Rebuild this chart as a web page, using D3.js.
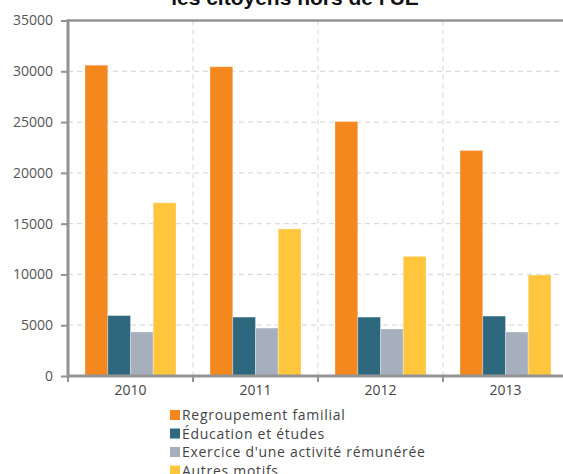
<!DOCTYPE html>
<html>
<head>
<meta charset="utf-8">
<script src="https://cdn.jsdelivr.net/npm/d3@7"></script>
<style>
  body { margin: 0; background: #fff; }
  svg { display: block; }
</style>
</head>
<body>
<div id="chart"></div>
<script>
const years = ['2010', '2011', '2012', '2013'];
const seriesNames = ['Regroupement familial', 'Éducation et études', "Exercice d'une activité rémunérée", 'Autres motifs'];
const seriesColors = ['#f5871f', '#2e687e', '#a6b0bd', '#ffc53d'];
const regroupement = [30600, 30450, 25050, 22200];
const education = [5950, 5800, 5800, 5900];
const exercice = [4340, 4720, 4630, 4330];
const autres = [17050, 14480, 11780, 9940];
const yTicks = [0, 5000, 10000, 15000, 20000, 25000, 30000, 35000];
const titleText = "les citoyens hors de l'UE";

const values = [regroupement, education, exercice, autres];

const W = 563, H = 474;
const plotLeft = 68, plotRight = 568, plotTop = 20.5, plotBottom = 376;

const svg = d3.select('#chart').append('svg')
  .attr('width', W)
  .attr('height', H);

const x0 = d3.scaleBand().domain(years).range([plotLeft, plotRight]);
const x1 = d3.scaleBand().domain(d3.range(seriesNames.length)).range([17, 108]);
const y = d3.scaleLinear().domain([0, 35000]).range([plotBottom, plotTop]);

// grid
svg.append('g')
  .selectAll('line')
  .data(yTicks.slice(1, -1))
  .enter()
  .append('line')
  .attr('x1', plotLeft).attr('x2', W)
  .attr('y1', d => y(d)).attr('y2', d => y(d))
  .attr('stroke', '#dcdcdc')
  .attr('stroke-width', 1.2)
  .attr('stroke-dasharray', '5,4');

svg.append('g')
  .selectAll('line')
  .data(years.slice(1))
  .enter()
  .append('line')
  .attr('x1', d => x0(d)).attr('x2', d => x0(d))
  .attr('y1', plotTop).attr('y2', plotBottom)
  .attr('stroke', '#dcdcdc')
  .attr('stroke-width', 1.2)
  .attr('stroke-dasharray', '5,4');

// bars
const groups = svg.append('g')
  .selectAll('g')
  .data(years)
  .enter()
  .append('g')
  .attr('transform', d => 'translate(' + x0(d) + ',0)');

groups.selectAll('rect')
  .data((d, i) => values.map((s, j) => ({ s: j, v: s[i] })))
  .enter()
  .append('rect')
  .attr('x', d => x1(d.s))
  .attr('y', d => y(d.v))
  .attr('width', x1.bandwidth())
  .attr('height', d => plotBottom - y(d.v))
  .attr('fill', d => seriesColors[d.s])
  .attr('stroke', 'rgba(255,255,255,0.3)')
  .attr('stroke-width', 1);

// axes
const axisColor = '#939393';

const yAxis = svg.append('g')
  .attr('transform', 'translate(' + plotLeft + ',0)')
  .call(d3.axisLeft(y).tickValues(yTicks).tickSize(7).tickPadding(8).tickFormat(d3.format('d')));
yAxis.select('.domain').remove();
yAxis.selectAll('line').attr('stroke', axisColor).attr('stroke-width', 2);
yAxis.selectAll('text')
  .style('font-family', '"Open Sans", sans-serif')
  .style('font-size', '14px')
  .attr('fill', '#555');

const xAxis = svg.append('g')
  .attr('transform', 'translate(0,' + plotBottom + ')')
  .call(d3.axisBottom(x0).tickSize(0).tickPadding(9));
xAxis.select('.domain').remove();
xAxis.selectAll('line').remove();
xAxis.selectAll('text')
  .style('font-family', '"Open Sans", sans-serif')
  .style('font-size', '14px')
  .attr('fill', '#444');

svg.append('g')
  .selectAll('line')
  .data(years)
  .enter()
  .append('line')
  .attr('x1', d => x0(d)).attr('x2', d => x0(d))
  .attr('y1', plotBottom).attr('y2', plotBottom + 6)
  .attr('stroke', axisColor)
  .attr('stroke-width', 2);

svg.append('line')
  .attr('x1', plotLeft).attr('x2', W)
  .attr('y1', plotTop).attr('y2', plotTop)
  .attr('stroke', axisColor).attr('stroke-width', 2.5);
svg.append('line')
  .attr('x1', plotLeft).attr('x2', W)
  .attr('y1', plotBottom).attr('y2', plotBottom)
  .attr('stroke', axisColor).attr('stroke-width', 3);
svg.append('line')
  .attr('x1', plotLeft).attr('x2', plotLeft)
  .attr('y1', plotTop - 1.25).attr('y2', plotBottom + 1.5)
  .attr('stroke', axisColor).attr('stroke-width', 3);

// title (its first line sits above the picture)
svg.append('text')
  .attr('x', 295)
  .attr('y', 5)
  .attr('text-anchor', 'middle')
  .style('font-family', '"Liberation Sans", Arial, sans-serif')
  .style('font-weight', 'bold')
  .style('font-size', '21px')
  .attr('fill', '#111')
  .text(titleText);

// legend
const legend = svg.append('g')
  .selectAll('g')
  .data(seriesNames)
  .enter()
  .append('g')
  .attr('transform', (d, i) => 'translate(170,' + (415 + i * 18.5) + ')');

legend.append('rect')
  .attr('x', 0).attr('y', -5)
  .attr('width', 10).attr('height', 10)
  .attr('fill', (d, i) => seriesColors[i]);

legend.append('text')
  .attr('x', 12)
  .attr('y', 5)
  .style('font-family', '"Open Sans", sans-serif')
  .style('font-size', '14px')
  .style('letter-spacing', '0.7px')
  .attr('fill', '#444')
  .text(d => d);
</script>
</body>
</html>
